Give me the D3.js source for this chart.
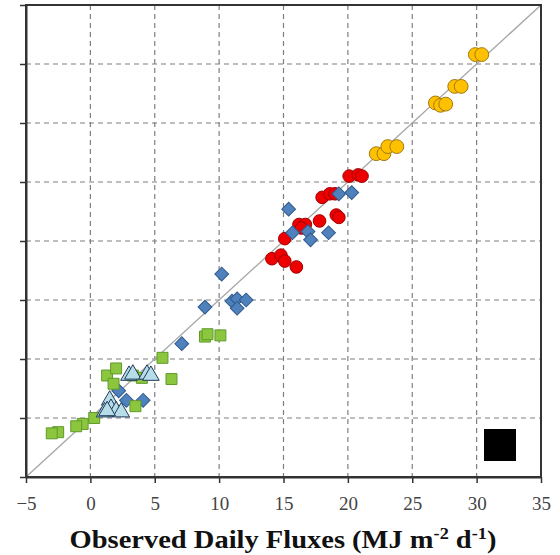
<!DOCTYPE html>
<html>
<head>
<meta charset="utf-8">
<script src="https://cdn.jsdelivr.net/npm/d3@7"></script>
<style>
  body { margin: 0; background: #fff; }
  svg { display: block; }
</style>
</head>
<body>
<svg id="chart" width="560" height="555"></svg>
<script>
// axis ticks (same range on both axes, y labels are not shown)
let xTicks = [-5, 0, 5, 10, 15, 20, 25, 30, 35];
let yTicks = [-5, 0, 5, 10, 15, 20, 25, 30, 35];

// series: [observed, modelled]
let orangeSeries = [[29.9,30.8],[30.4,30.8],[28.3,28.1],[28.8,28.1],[26.8,26.7],[27.2,26.5],[27.6,26.6],
                    [22.2,22.4],[22.8,22.4],[23.1,23.0],[23.8,23.0]];
let redSeries = [[20.1,20.5],[20.8,20.6],[21.1,20.5],[18.0,18.7],[18.6,19.0],[19.0,19.0],[19.1,17.2],[19.3,17.0],
                 [17.8,16.7],[16.2,16.4],[16.7,16.4],[16.4,16.1],[15.1,15.2],[14.1,13.5],[14.8,13.8],[15.1,13.3],[16.0,12.8]];
let blueSeries = [[20.3,19.1],[19.3,19.0],[15.4,17.7],[15.7,15.7],[16.9,15.8],[17.1,15.1],[18.5,15.7],
                  [10.2,12.2],[11.0,9.9],[11.4,10.1],[11.4,9.3],[12.1,10.0],[8.9,9.4],[7.1,6.3],
                  [2.2,2.3],[2.8,1.5],[4.1,1.5]];
let greenSeries = [[5.6,5.1],[1.3,3.6],[2.0,4.2],[1.8,2.9],[3.3,3.6],[4.0,3.4],[6.3,3.3],[3.5,1.0],
                   [0.3,0.0],[-0.6,-0.5],[-1.1,-0.7],[-2.5,-1.2],[-3.0,-1.3],[8.9,6.9],[9.1,7.1],[10.1,7.0]];
let triSeries = [[3.0,3.6],[3.3,3.7],[4.4,3.7],[4.7,3.6],[1.5,1.5],[1.6,0.8],[1.1,0.5],[2.0,0.6],[2.4,0.5],[1.3,0.6]];

let chart = d3.select("#chart");
let plotLeft = 26, plotTop = 5, plotRight = 541, plotBottom = 477;

let x = d3.scaleLinear().domain([-5, 35]).range([plotLeft, plotRight]);
let y = d3.scaleLinear().domain([-5, 35]).range([plotBottom, plotTop]);

// dashed grid
chart.append("g").selectAll("line")
    .data(xTicks.slice(1, -1))
    .enter().append("line")
      .attr("x1", d => x(d)).attr("x2", d => x(d))
      .attr("y1", plotTop).attr("y2", plotBottom)
      .attr("stroke", "#7f7f7f").attr("stroke-width", 1.2)
      .attr("stroke-dasharray", "5,4");
chart.append("g").selectAll("line")
    .data(yTicks.slice(1, -1))
    .enter().append("line")
      .attr("x1", plotLeft).attr("x2", plotRight)
      .attr("y1", d => y(d)).attr("y2", d => y(d))
      .attr("stroke", "#7f7f7f").attr("stroke-width", 1.2)
      .attr("stroke-dasharray", "5,4");

// 1:1 line
chart.append("line")
    .attr("x1", x(-5)).attr("y1", y(-5))
    .attr("x2", x(35)).attr("y2", y(35))
    .attr("stroke", "#a6a6a6").attr("stroke-width", 1.3);

// frame
chart.append("rect")
    .attr("x", plotLeft).attr("y", plotTop)
    .attr("width", plotRight - plotLeft).attr("height", plotBottom - plotTop)
    .attr("fill", "none").attr("stroke", "#333").attr("stroke-width", 2);

// axes
let xAxis = chart.append("g")
    .attr("transform", "translate(0," + plotBottom + ")")
    .call(d3.axisBottom(x).tickValues(xTicks).tickSize(6).tickPadding(14).tickSizeOuter(0));
xAxis.select(".domain").attr("stroke", "#333").attr("stroke-width", 2);
xAxis.selectAll(".tick line").attr("stroke", "#333").attr("stroke-width", 1.5);
xAxis.selectAll("text")
    .attr("font-family", "'Liberation Serif', 'Times New Roman', serif")
    .attr("font-size", "19px").attr("fill", "#444");

let yAxis = chart.append("g")
    .attr("transform", "translate(" + plotLeft + ",0)")
    .call(d3.axisLeft(y).tickValues(yTicks).tickSize(6).tickFormat("").tickSizeOuter(0));
yAxis.select(".domain").attr("stroke", "#333").attr("stroke-width", 2);
yAxis.selectAll(".tick line").attr("stroke", "#333").attr("stroke-width", 1.5);

// axis title (source font runs a little wide)
chart.append("text")
    .attr("transform", "translate(283,548) scale(1.14,1)")
    .attr("text-anchor", "middle")
    .attr("font-family", "'Liberation Serif', 'Times New Roman', serif")
    .attr("font-size", "25px").attr("font-weight", "bold").attr("fill", "#111")
    .html("Observed Daily Fluxes (MJ m<tspan dy='-9' font-size='16px'>-2</tspan><tspan dy='9'> d</tspan><tspan dy='-9' font-size='16px'>-1</tspan><tspan dy='9'>)</tspan>");

// marks
function drawSeries(data, shape, size, fill, stroke, rot) {
    chart.append("g").selectAll("path")
        .data(data)
        .enter().append("path")
          .attr("d", d3.symbol().type(shape).size(size))
          .attr("transform", d => "translate(" + x(d[0]) + "," + y(d[1]) + ") rotate(" + (rot || 0) + ")")
          .attr("fill", fill).attr("stroke", stroke).attr("stroke-width", 1);
}

drawSeries(orangeSeries, d3.symbolCircle, 150, "#ffc000", "#a07a10");
drawSeries(redSeries, d3.symbolCircle, 125, "#ee0000", "#a00000");
drawSeries(blueSeries, d3.symbolSquare, 95, "#4f81bd", "#2f5a8c", 45);
drawSeries(greenSeries, d3.symbolSquare, 120, "#8cc63f", "#5f9a2a");
drawSeries(triSeries, d3.symbolTriangle, 120, "#b7dde8", "#1f3a5a");

// black box in lower right
chart.append("rect")
    .attr("x", 484).attr("y", 429)
    .attr("width", 32).attr("height", 32)
    .attr("fill", "#000");
</script>
</body>
</html>
